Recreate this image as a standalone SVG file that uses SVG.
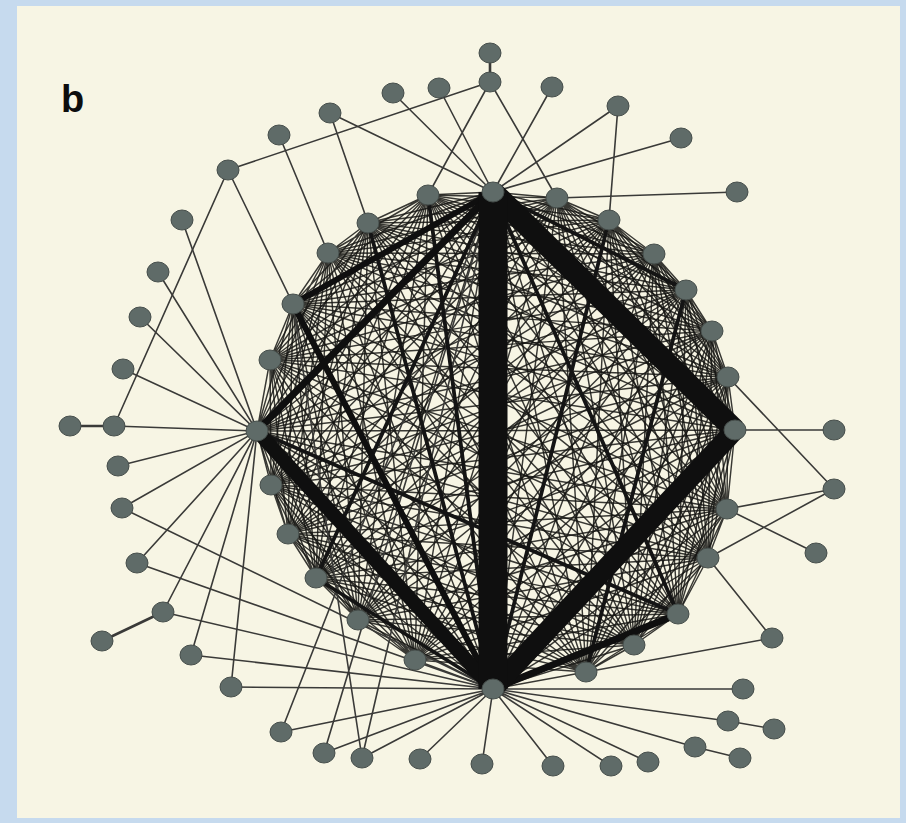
<svg xmlns="http://www.w3.org/2000/svg" width="906" height="823" viewBox="0 0 906 823">
<style>
.nd{fill:#5f6b68;stroke:#464e4b;stroke-width:1}
.mesh{fill:none;stroke:#161614;stroke-width:1.45;stroke-opacity:0.85}
.out{fill:none;stroke:#3a3a38;stroke-width:1.6}
.thk{fill:none;stroke:#0f0f0f;stroke-linecap:butt}
.med{fill:none;stroke:#141414;stroke-width:3.8}
.lbl{font-family:"Liberation Sans",Arial,sans-serif;font-weight:bold;font-size:38px;fill:#0d0d0d}
</style>
<rect x="0" y="0" width="906" height="823" fill="#c6daee"/>
<rect x="17" y="6" width="883" height="812" fill="#f7f5e4"/>
<text class="lbl" x="61" y="112">b</text>
<g id="connectors">
<path class="mesh" d="M493 192L557 198M493 192L609 220M493 192L654 254M493 192L686 290M493 192L712 331M493 192L728 377M493 192L735 430M493 192L727 509M493 192L708 558M493 192L678 614M493 192L634 645M493 192L586 672M493 192L493 689M493 192L415 660M493 192L358 620M493 192L316 578M493 192L288 534M493 192L271 485M493 192L257 431M493 192L270 360M493 192L293 304M493 192L328 253M493 192L368 223M493 192L428 195"/>
<path class="mesh" d="M557 198L609 220M557 198L654 254M557 198L686 290M557 198L712 331M557 198L728 377M557 198L735 430M557 198L727 509M557 198L708 558M557 198L678 614M557 198L634 645M557 198L586 672M557 198L493 689M557 198L415 660M557 198L358 620M557 198L316 578M557 198L288 534M557 198L271 485M557 198L257 431M557 198L270 360M557 198L293 304M557 198L328 253M557 198L368 223M557 198L428 195"/>
<path class="mesh" d="M609 220L654 254M609 220L686 290M609 220L712 331M609 220L728 377M609 220L735 430M609 220L727 509M609 220L708 558M609 220L678 614M609 220L634 645M609 220L586 672M609 220L493 689M609 220L415 660M609 220L358 620M609 220L316 578M609 220L288 534M609 220L271 485M609 220L257 431M609 220L270 360M609 220L293 304M609 220L328 253M609 220L368 223M609 220L428 195"/>
<path class="mesh" d="M654 254L686 290M654 254L712 331M654 254L728 377M654 254L735 430M654 254L727 509M654 254L708 558M654 254L678 614M654 254L634 645M654 254L586 672M654 254L493 689M654 254L415 660M654 254L358 620M654 254L316 578M654 254L288 534M654 254L271 485M654 254L257 431M654 254L270 360M654 254L293 304M654 254L328 253M654 254L368 223M654 254L428 195"/>
<path class="mesh" d="M686 290L712 331M686 290L728 377M686 290L735 430M686 290L727 509M686 290L708 558M686 290L678 614M686 290L634 645M686 290L586 672M686 290L493 689M686 290L415 660M686 290L358 620M686 290L316 578M686 290L288 534M686 290L271 485M686 290L257 431M686 290L270 360M686 290L293 304M686 290L328 253M686 290L368 223M686 290L428 195"/>
<path class="mesh" d="M712 331L728 377M712 331L735 430M712 331L727 509M712 331L708 558M712 331L678 614M712 331L634 645M712 331L586 672M712 331L493 689M712 331L415 660M712 331L358 620M712 331L316 578M712 331L288 534M712 331L271 485M712 331L257 431M712 331L270 360M712 331L293 304M712 331L328 253M712 331L368 223M712 331L428 195"/>
<path class="mesh" d="M728 377L735 430M728 377L727 509M728 377L708 558M728 377L678 614M728 377L634 645M728 377L586 672M728 377L493 689M728 377L415 660M728 377L358 620M728 377L316 578M728 377L288 534M728 377L271 485M728 377L257 431M728 377L270 360M728 377L293 304M728 377L328 253M728 377L368 223M728 377L428 195"/>
<path class="mesh" d="M735 430L727 509M735 430L708 558M735 430L678 614M735 430L634 645M735 430L586 672M735 430L493 689M735 430L415 660M735 430L358 620M735 430L316 578M735 430L288 534M735 430L271 485M735 430L257 431M735 430L270 360M735 430L293 304M735 430L328 253M735 430L368 223M735 430L428 195"/>
<path class="mesh" d="M727 509L708 558M727 509L678 614M727 509L634 645M727 509L586 672M727 509L493 689M727 509L415 660M727 509L358 620M727 509L316 578M727 509L288 534M727 509L271 485M727 509L257 431M727 509L270 360M727 509L293 304M727 509L328 253M727 509L368 223M727 509L428 195"/>
<path class="mesh" d="M708 558L678 614M708 558L634 645M708 558L586 672M708 558L493 689M708 558L415 660M708 558L358 620M708 558L316 578M708 558L288 534M708 558L271 485M708 558L257 431M708 558L270 360M708 558L293 304M708 558L328 253M708 558L368 223M708 558L428 195"/>
<path class="mesh" d="M678 614L634 645M678 614L586 672M678 614L493 689M678 614L415 660M678 614L358 620M678 614L316 578M678 614L288 534M678 614L271 485M678 614L257 431M678 614L270 360M678 614L293 304M678 614L328 253M678 614L368 223M678 614L428 195"/>
<path class="mesh" d="M634 645L586 672M634 645L493 689M634 645L415 660M634 645L358 620M634 645L316 578M634 645L288 534M634 645L271 485M634 645L257 431M634 645L270 360M634 645L293 304M634 645L328 253M634 645L368 223M634 645L428 195"/>
<path class="mesh" d="M586 672L493 689M586 672L415 660M586 672L358 620M586 672L316 578M586 672L288 534M586 672L271 485M586 672L257 431M586 672L270 360M586 672L293 304M586 672L328 253M586 672L368 223M586 672L428 195"/>
<path class="mesh" d="M493 689L415 660M493 689L358 620M493 689L316 578M493 689L288 534M493 689L271 485M493 689L257 431M493 689L270 360M493 689L293 304M493 689L328 253M493 689L368 223M493 689L428 195"/>
<path class="mesh" d="M415 660L358 620M415 660L316 578M415 660L288 534M415 660L271 485M415 660L257 431M415 660L270 360M415 660L293 304M415 660L328 253M415 660L368 223M415 660L428 195"/>
<path class="mesh" d="M358 620L316 578M358 620L288 534M358 620L271 485M358 620L257 431M358 620L270 360M358 620L293 304M358 620L328 253M358 620L368 223M358 620L428 195"/>
<path class="mesh" d="M316 578L288 534M316 578L271 485M316 578L257 431M316 578L270 360M316 578L293 304M316 578L328 253M316 578L368 223M316 578L428 195"/>
<path class="mesh" d="M288 534L271 485M288 534L257 431M288 534L270 360M288 534L293 304M288 534L328 253M288 534L368 223M288 534L428 195"/>
<path class="mesh" d="M271 485L257 431M271 485L270 360M271 485L293 304M271 485L328 253M271 485L368 223M271 485L428 195"/>
<path class="mesh" d="M257 431L270 360M257 431L293 304M257 431L328 253M257 431L368 223M257 431L428 195"/>
<path class="mesh" d="M270 360L293 304M270 360L328 253M270 360L368 223M270 360L428 195M293 304L328 253M293 304L368 223M293 304L428 195M328 253L368 223M328 253L428 195M368 223L428 195"/>
<path class="out" d="M490 82L228 170M490 82L428 195M490 82L557 198M439 88L493 192M393 93L493 192M552 87L493 192M618 106L493 192M618 106L609 220M681 138L493 192M330 113L493 192M330 113L368 223M279 135L328 253M228 170L114 426M228 170L293 304M737 192L557 198"/>
<path class="out" d="M182 220L257 431M158 272L257 431M140 317L257 431M123 369L257 431M114 426L257 431M118 466L257 431M122 508L257 431M137 563L257 431M163 612L257 431M191 655L257 431M231 687L257 431"/>
<path class="out" d="M122 508L493 689M137 563L493 689M163 612L493 689M191 655L493 689M231 687L493 689M281 732L493 689M324 753L493 689M362 758L493 689M420 759L493 689M482 764L493 689M553 766L493 689M611 766L493 689M648 762L493 689M695 747L493 689M728 721L493 689M743 689L493 689"/>
<path class="out" d="M281 732L493 192M324 753L493 192M362 758L493 192M362 758L293 304M695 747L740 758M728 721L774 729M772 638L586 672M772 638L708 558M816 553L727 509M834 489L708 558M834 489L728 377M834 489L727 509M834 430L735 430"/>
<path class="out" style="stroke-width:2.6" d="M490 53L490 82M70 426L114 426M163 612L102 641"/>
<path class="med" d="M493 192L686 290M493 192L678 614M257 431L678 614M368 223L493 689M428 195L493 689M316 578L493 689M493 192L316 578M609 220L493 689M686 290L586 672"/>
<path class="thk" style="stroke-width:6" d="M493 192L293 304M293 304L493 689"/>
<path class="thk" style="stroke-width:7" d="M493 192L257 431M678 614L493 689"/>
<path class="thk" style="stroke-width:14" d="M257 431L493 689"/>
<path class="thk" style="stroke-width:20" d="M735 430L493 689"/>
<path class="thk" style="stroke-width:22" d="M493 192L735 430"/>
<path class="thk" style="stroke-width:29" d="M493 192L493 689"/>
</g>
<g id="nodes">
<g id="n1"><ellipse class="nd" cx="490" cy="53" rx="11" ry="10"/></g>
<g id="n2"><ellipse class="nd" cx="490" cy="82" rx="11" ry="10"/></g>
<g id="n3"><ellipse class="nd" cx="439" cy="88" rx="11" ry="10"/></g>
<g id="n4"><ellipse class="nd" cx="393" cy="93" rx="11" ry="10"/></g>
<g id="n5"><ellipse class="nd" cx="552" cy="87" rx="11" ry="10"/></g>
<g id="n6"><ellipse class="nd" cx="618" cy="106" rx="11" ry="10"/></g>
<g id="n7"><ellipse class="nd" cx="681" cy="138" rx="11" ry="10"/></g>
<g id="n8"><ellipse class="nd" cx="330" cy="113" rx="11" ry="10"/></g>
<g id="n9"><ellipse class="nd" cx="279" cy="135" rx="11" ry="10"/></g>
<g id="n10"><ellipse class="nd" cx="228" cy="170" rx="11" ry="10"/></g>
<g id="n11"><ellipse class="nd" cx="737" cy="192" rx="11" ry="10"/></g>
<g id="n12"><ellipse class="nd" cx="182" cy="220" rx="11" ry="10"/></g>
<g id="n13"><ellipse class="nd" cx="158" cy="272" rx="11" ry="10"/></g>
<g id="n14"><ellipse class="nd" cx="140" cy="317" rx="11" ry="10"/></g>
<g id="n15"><ellipse class="nd" cx="123" cy="369" rx="11" ry="10"/></g>
<g id="n16"><ellipse class="nd" cx="70" cy="426" rx="11" ry="10"/></g>
<g id="n17"><ellipse class="nd" cx="114" cy="426" rx="11" ry="10"/></g>
<g id="n18"><ellipse class="nd" cx="118" cy="466" rx="11" ry="10"/></g>
<g id="n19"><ellipse class="nd" cx="122" cy="508" rx="11" ry="10"/></g>
<g id="n20"><ellipse class="nd" cx="137" cy="563" rx="11" ry="10"/></g>
<g id="n21"><ellipse class="nd" cx="163" cy="612" rx="11" ry="10"/></g>
<g id="n22"><ellipse class="nd" cx="102" cy="641" rx="11" ry="10"/></g>
<g id="n23"><ellipse class="nd" cx="191" cy="655" rx="11" ry="10"/></g>
<g id="n24"><ellipse class="nd" cx="231" cy="687" rx="11" ry="10"/></g>
<g id="n25"><ellipse class="nd" cx="281" cy="732" rx="11" ry="10"/></g>
<g id="n26"><ellipse class="nd" cx="324" cy="753" rx="11" ry="10"/></g>
<g id="n27"><ellipse class="nd" cx="362" cy="758" rx="11" ry="10"/></g>
<g id="n28"><ellipse class="nd" cx="420" cy="759" rx="11" ry="10"/></g>
<g id="n29"><ellipse class="nd" cx="482" cy="764" rx="11" ry="10"/></g>
<g id="n30"><ellipse class="nd" cx="553" cy="766" rx="11" ry="10"/></g>
<g id="n31"><ellipse class="nd" cx="611" cy="766" rx="11" ry="10"/></g>
<g id="n32"><ellipse class="nd" cx="648" cy="762" rx="11" ry="10"/></g>
<g id="n33"><ellipse class="nd" cx="695" cy="747" rx="11" ry="10"/></g>
<g id="n34"><ellipse class="nd" cx="740" cy="758" rx="11" ry="10"/></g>
<g id="n35"><ellipse class="nd" cx="728" cy="721" rx="11" ry="10"/></g>
<g id="n36"><ellipse class="nd" cx="774" cy="729" rx="11" ry="10"/></g>
<g id="n37"><ellipse class="nd" cx="743" cy="689" rx="11" ry="10"/></g>
<g id="n38"><ellipse class="nd" cx="772" cy="638" rx="11" ry="10"/></g>
<g id="n39"><ellipse class="nd" cx="816" cy="553" rx="11" ry="10"/></g>
<g id="n40"><ellipse class="nd" cx="834" cy="489" rx="11" ry="10"/></g>
<g id="n41"><ellipse class="nd" cx="834" cy="430" rx="11" ry="10"/></g>
<g id="hubT"><ellipse class="nd" cx="493" cy="192" rx="11" ry="10"/></g>
<g id="r1"><ellipse class="nd" cx="557" cy="198" rx="11" ry="10"/></g>
<g id="r2"><ellipse class="nd" cx="609" cy="220" rx="11" ry="10"/></g>
<g id="r3"><ellipse class="nd" cx="654" cy="254" rx="11" ry="10"/></g>
<g id="r4"><ellipse class="nd" cx="686" cy="290" rx="11" ry="10"/></g>
<g id="r5"><ellipse class="nd" cx="712" cy="331" rx="11" ry="10"/></g>
<g id="r6"><ellipse class="nd" cx="728" cy="377" rx="11" ry="10"/></g>
<g id="hubR"><ellipse class="nd" cx="735" cy="430" rx="11" ry="10"/></g>
<g id="r7"><ellipse class="nd" cx="727" cy="509" rx="11" ry="10"/></g>
<g id="r8"><ellipse class="nd" cx="708" cy="558" rx="11" ry="10"/></g>
<g id="r9"><ellipse class="nd" cx="678" cy="614" rx="11" ry="10"/></g>
<g id="r10"><ellipse class="nd" cx="634" cy="645" rx="11" ry="10"/></g>
<g id="r11"><ellipse class="nd" cx="586" cy="672" rx="11" ry="10"/></g>
<g id="hubB"><ellipse class="nd" cx="493" cy="689" rx="11" ry="10"/></g>
<g id="r12"><ellipse class="nd" cx="415" cy="660" rx="11" ry="10"/></g>
<g id="r13"><ellipse class="nd" cx="358" cy="620" rx="11" ry="10"/></g>
<g id="r14"><ellipse class="nd" cx="316" cy="578" rx="11" ry="10"/></g>
<g id="r15"><ellipse class="nd" cx="288" cy="534" rx="11" ry="10"/></g>
<g id="r16"><ellipse class="nd" cx="271" cy="485" rx="11" ry="10"/></g>
<g id="hubL"><ellipse class="nd" cx="257" cy="431" rx="11" ry="10"/></g>
<g id="r17"><ellipse class="nd" cx="270" cy="360" rx="11" ry="10"/></g>
<g id="r18"><ellipse class="nd" cx="293" cy="304" rx="11" ry="10"/></g>
<g id="r19"><ellipse class="nd" cx="328" cy="253" rx="11" ry="10"/></g>
<g id="r20"><ellipse class="nd" cx="368" cy="223" rx="11" ry="10"/></g>
<g id="r21"><ellipse class="nd" cx="428" cy="195" rx="11" ry="10"/></g>
</g>
</svg>
